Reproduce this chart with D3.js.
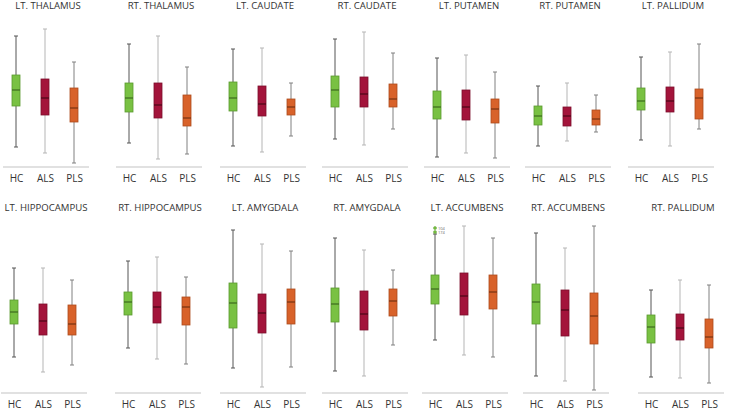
<!DOCTYPE html>
<html>
<head>
<meta charset="utf-8">
<script src="https://cdn.jsdelivr.net/npm/d3@7/dist/d3.min.js"></script>
<style>
  body { margin: 0; background: #fff; }
  svg { display: block; }
</style>
</head>
<body>
<div class="canvas"></div>
<script>
// region names, one small panel each
const regions = [
  "LT. THALAMUS", "RT. THALAMUS", "LT. CAUDATE", "RT. CAUDATE", "LT. PUTAMEN", "RT. PUTAMEN", "LT. PALLIDUM",
  "LT. HIPPOCAMPUS", "RT. HIPPOCAMPUS", "LT. AMYGDALA", "RT. AMYGDALA", "LT. ACCUMBENS", "RT. ACCUMBENS", "RT. PALLIDUM"
];
const groups = ["HC", "ALS", "PLS"];

// [min, q1, median, q3, max] per region (arbitrary units, no axis in source)
const hcStats = [
  [20, 61, 77, 92, 131], [24, 55, 69, 84, 123], [21, 56, 69, 85, 118], [28, 60, 77, 91, 128],
  [10, 48, 60, 76, 109], [21, 42, 51, 61, 81], [27, 57, 66, 79, 110],
  [36, 69, 81, 93, 125], [45, 78, 91, 101, 132], [25, 65, 90, 110, 163], [22, 71, 89, 105, 155],
  [53, 89, 104, 118, 159], [17, 69, 91, 109, 160], [16, 50, 66, 78, 103]
];
const alsStats = [
  [14, 52, 69, 88, 138], [8, 49, 62, 84, 131], [15, 51, 63, 81, 119], [22, 60, 73, 90, 135],
  [14, 47, 60, 77, 112], [26, 41, 51, 60, 84], [21, 55, 66, 80, 115],
  [21, 58, 72, 89, 125], [34, 70, 86, 101, 136], [6, 60, 80, 99, 149], [17, 63, 79, 102, 143],
  [38, 78, 97, 120, 167], [12, 57, 83, 103, 145], [15, 53, 65, 79, 113]
];
const plsStats = [
  [4, 45, 59, 79, 105], [13, 41, 49, 72, 100], [31, 52, 60, 68, 84], [38, 60, 68, 83, 114],
  [9, 44, 58, 68, 95], [35, 42, 48, 57, 72], [38, 48, 69, 78, 123],
  [28, 58, 69, 88, 113], [29, 68, 86, 96, 116], [26, 69, 91, 104, 142], [48, 77, 92, 104, 123],
  [36, 84, 101, 118, 155], [3, 49, 77, 100, 167], [10, 45, 56, 74, 108]
];
// labelled outliers
const outliers = [
  { region: "LT. ACCUMBENS", group: "HC", value: 165, label: "104" },
  { region: "LT. ACCUMBENS", group: "HC", value: 161, label: "174" }
];

// layout
const w = 731;
const h = 410;
const rowBase = [167, 393];       // baseline y per row
const rowTitle = [9, 211];        // title baseline y per row
const hcX = [16, 129, 233, 335, 437, 538, 641, 14, 128, 233, 335, 435, 536, 651]; // HC box centre per panel
const step = 29;
const boxW = 8;

const colors = {
  HC: { fill: "#79c143", stroke: "#5a9a2e", median: "#3c6a1e", whisker: "#555" },
  ALS: { fill: "#a3143b", stroke: "#7c0e2c", median: "#4a0617", whisker: "#b5b5b5" },
  PLS: { fill: "#d8622a", stroke: "#ad4b1c", median: "#773311", whisker: "#808080" }
};
const statsByGroup = { HC: hcStats, ALS: alsStats, PLS: plsStats };

const svg = d3.select(".canvas").append("svg").attr("width", w).attr("height", h);

regions.forEach((name, i) => {
  const row = i < 7 ? 0 : 1;
  const base = rowBase[row];
  const x0 = hcX[i];

  const x = d3.scalePoint().domain(groups).range([x0, x0 + 2 * step]);
  const y = d3.scaleLinear().domain([0, 170]).range([base, base - 170]);

  const panel = svg.append("g").attr("class", "panel");

  // title
  panel.append("text")
    .attr("x", x0 + step + 3)
    .attr("y", rowTitle[row])
    .attr("text-anchor", "middle")
    .style("font-family", "'Open Sans', sans-serif")
    .style("font-size", "9.6px")
    .style("fill", "#333")
    .text(name);

  // baseline
  panel.append("line")
    .attr("x1", x0 - 13).attr("x2", x0 + 2 * step + 15)
    .attr("y1", base).attr("y2", base)
    .attr("stroke", "#c4c4c4").attr("stroke-width", 1.2);

  const boxes = panel.selectAll("g.box")
    .data(groups.map(g => ({ group: g, s: statsByGroup[g][i] })))
    .enter().append("g").attr("class", "box");

  // whiskers
  boxes.append("line")
    .attr("x1", d => x(d.group)).attr("x2", d => x(d.group))
    .attr("y1", d => y(d.s[0])).attr("y2", d => y(d.s[4]))
    .attr("stroke", d => colors[d.group].whisker).attr("stroke-width", 1);
  boxes.selectAll("line.cap")
    .data(d => [d.s[0], d.s[4]].map(v => ({ group: d.group, v })))
    .enter().append("line").attr("class", "cap")
    .attr("x1", d => x(d.group) - 2).attr("x2", d => x(d.group) + 2)
    .attr("y1", d => y(d.v)).attr("y2", d => y(d.v))
    .attr("stroke", d => colors[d.group].whisker).attr("stroke-width", 1);

  // box
  boxes.append("rect")
    .attr("x", d => x(d.group) - boxW / 2)
    .attr("y", d => y(d.s[3]))
    .attr("width", boxW)
    .attr("height", d => y(d.s[1]) - y(d.s[3]))
    .attr("fill", d => colors[d.group].fill)
    .attr("stroke", d => colors[d.group].stroke)
    .attr("stroke-width", 0.8);

  // median
  boxes.append("line")
    .attr("x1", d => x(d.group) - boxW / 2).attr("x2", d => x(d.group) + boxW / 2)
    .attr("y1", d => y(d.s[2])).attr("y2", d => y(d.s[2]))
    .attr("stroke", d => colors[d.group].median).attr("stroke-width", 1.2);

  // outliers
  const outs = outliers.filter(o => o.region === name);
  panel.selectAll("circle.out").data(outs).enter().append("circle")
    .attr("class", "out")
    .attr("cx", d => x(d.group)).attr("cy", d => y(d.value)).attr("r", 1.5)
    .attr("fill", colors.HC.fill).attr("stroke", colors.HC.stroke).attr("stroke-width", 0.5);
  panel.selectAll("text.out").data(outs).enter().append("text")
    .attr("class", "out")
    .attr("x", d => x(d.group) + 3).attr("y", d => y(d.value) + 1.5)
    .style("font-family", "'Open Sans', sans-serif")
    .style("font-size", "4px")
    .style("fill", "#666")
    .text(d => d.label);

  // group labels
  const axis = panel.append("g")
    .attr("transform", `translate(0, ${base})`)
    .call(d3.axisBottom(x).tickSize(0).tickPadding(8));
  axis.select(".domain").remove();
  axis.selectAll("text")
    .style("font-family", "'Open Sans', sans-serif")
    .style("font-size", "10px")
    .style("fill", "#333");
});
</script>
</body>
</html>
